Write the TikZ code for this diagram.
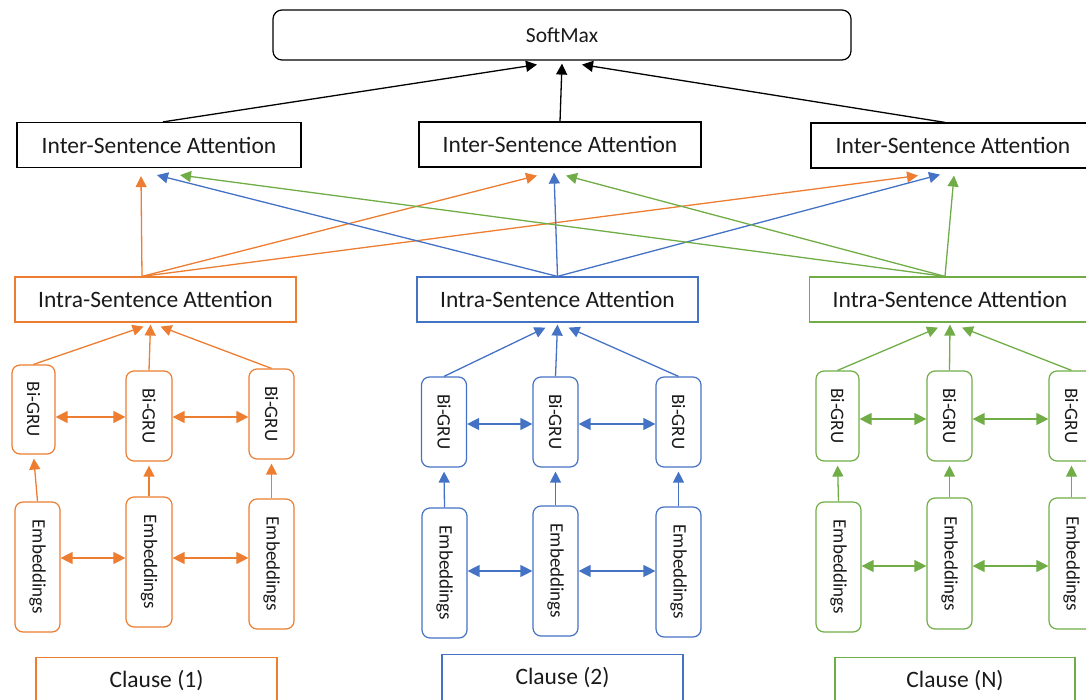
\documentclass[tikz,border=0pt]{standalone}
\usepackage{fontspec}
\usepackage{graphicx}
\setmainfont{Carlito}
\usetikzlibrary{arrows.meta}
\definecolor{org}{HTML}{ED7D31}
\definecolor{blu}{HTML}{4472C4}
\definecolor{grn}{HTML}{70AD47}
\definecolor{txt}{HTML}{1A1A1A}
\newcommand{\vtext}[1]{\rotatebox{-90}{#1}}
\begin{document}
\begin{tikzpicture}[x=1pt,y=-1pt,
  box/.style={draw, line width=1.2pt, text=txt, inner sep=0pt},
  big/.style={box, font=\fontsize{23.5}{26}\selectfont, minimum height=45pt},
  cell/.style={box, rounded corners=8pt, minimum width=45pt, font=\fontsize{19}{22}\selectfont},
  arr/.style={line width=1.3pt, -{Triangle[length=11pt,width=11pt]}},
  dbl/.style={line width=1.3pt, {Triangle[length=12pt,width=12pt]}-{Triangle[length=12pt,width=12pt]}},
]
\useasboundingbox (0,0) rectangle (1086,700);
\clip (0,0) rectangle (1086,700);

% top
\node[box, rounded corners=9pt, minimum width=578pt, minimum height=50pt, font=\fontsize{21.5}{24}\selectfont] (sm) at (562,35) {SoftMax};
\node[big, minimum width=284pt] (n1) at (159,145) {Inter-Sentence Attention};
\node[big, minimum width=282pt] (n2) at (560,144.5) {Inter-Sentence Attention};
\node[big, minimum width=284pt] (n3) at (953,145.5) {Inter-Sentence Attention};

% intra
\node[big, draw=org, minimum width=281pt] (a1) at (155.5,299.5) {Intra-Sentence Attention};
\node[big, draw=blu, minimum width=281pt] (a2) at (557.5,299.5) {Intra-Sentence Attention};
\node[big, draw=grn, minimum width=281pt] (a3) at (950,299.5) {Intra-Sentence Attention};

% orange column
\node[cell, draw=org, minimum width=43pt, minimum height=89pt] (b11) at (33.5,409.5) {\vtext{Bi-GRU}};
\node[cell, draw=org, minimum width=46pt, minimum height=90pt] (b12) at (149,416) {\vtext{Bi-GRU}};
\node[cell, draw=org, minimum height=90pt] (b13) at (271.5,414) {\vtext{Bi-GRU}};
\node[cell, draw=org, minimum height=130pt] (e11) at (37.5,567) {\vtext{Embeddings}};
\node[cell, draw=org, minimum width=46pt, minimum height=130pt] (e12) at (149,562) {\vtext{Embeddings}};
\node[cell, draw=org, minimum height=130pt] (e13) at (271.5,564) {\vtext{Embeddings}};
\node[big, draw=org, minimum width=241pt, minimum height=46pt, anchor=north] (c1) at (156.5,657) {Clause (1)};

% blue column
\node[cell, draw=blu, minimum height=90pt] (b21) at (444,422) {\vtext{Bi-GRU}};
\node[cell, draw=blu, minimum height=90pt] (b22) at (555.5,422) {\vtext{Bi-GRU}};
\node[cell, draw=blu, minimum height=90pt] (b23) at (678.5,422) {\vtext{Bi-GRU}};
\node[cell, draw=blu, minimum height=130pt] (e21) at (444.5,573) {\vtext{Embeddings}};
\node[cell, draw=blu, minimum height=130pt] (e22) at (555.5,571) {\vtext{Embeddings}};
\node[cell, draw=blu, minimum height=130pt] (e23) at (678.5,572) {\vtext{Embeddings}};
\node[big, draw=blu, minimum width=241pt, minimum height=46pt, anchor=north] (c2) at (562.5,654) {Clause (2)};

% green column
\node[cell, draw=grn, minimum width=43pt, minimum height=90pt] (b31) at (837.5,416) {\vtext{Bi-GRU}};
\node[cell, draw=grn, minimum height=90pt] (b32) at (949.5,416) {\vtext{Bi-GRU}};
\node[cell, draw=grn, minimum height=90pt] (b33) at (1071.5,416) {\vtext{Bi-GRU}};
\node[cell, draw=grn, minimum height=130pt] (e31) at (838.5,567) {\vtext{Embeddings}};
\node[cell, draw=grn, minimum height=131pt] (e32) at (949.5,563.5) {\vtext{Embeddings}};
\node[cell, draw=grn, minimum height=131pt] (e33) at (1071.5,563.5) {\vtext{Embeddings}};
\node[big, draw=grn, minimum width=240pt, minimum height=46pt, anchor=north] (c3) at (955,657) {Clause (N)};

% levels for horizontal arrows
\coordinate (yo1) at (0,417);
\coordinate (yo2) at (0,558);
\coordinate (yb1) at (0,424);
\coordinate (yb2) at (0,571);
\coordinate (yg1) at (0,419);
\coordinate (yg2) at (0,566);

% black arrows to SoftMax
\draw[arr, black] ([xshift=4pt]n1.north) -- ([xshift=-25pt,yshift=-4pt]sm.south);
\draw[arr, black] (n2.north) -- ([yshift=-3pt]sm.south);
\draw[arr, black] ([xshift=-8pt]n3.north) -- ([xshift=20pt,yshift=-4pt]sm.south);

% cross arrows intra -> inter
\draw[arr, org] ([xshift=-13.5pt]a1.north) -- ([xshift=-18pt,yshift=-8pt]n1.south);
\draw[arr, org] ([xshift=-13.5pt]a1.north) -- ([xshift=-23pt,yshift=-8pt]n2.south);
\draw[arr, org] ([xshift=-13.5pt]a1.north) -- ([xshift=-35pt,yshift=-7pt]n3.south);
\draw[arr, blu] (a2.north) -- ([xshift=-2pt,yshift=-7pt]n1.south);
\draw[arr, blu] (a2.north) -- ([xshift=-6pt,yshift=-5pt]n2.south);
\draw[arr, blu] (a2.north) -- ([xshift=-13pt,yshift=-6pt]n3.south);
\draw[arr, grn] ([xshift=-5pt]a3.north) -- ([xshift=21pt,yshift=-7pt]n1.south);
\draw[arr, grn] ([xshift=-5pt]a3.north) -- ([xshift=6pt,yshift=-8pt]n2.south);
\draw[arr, grn] ([xshift=-5pt]a3.north) -- ([xshift=1pt,yshift=-7pt]n3.south);

% Bi-GRU -> intra
\draw[arr, org] (b11.north) -- ([xshift=-12pt,yshift=-4pt]a1.south);
\draw[arr, org] (b12.north) -- ([xshift=-5pt,yshift=-2pt]a1.south);
\draw[arr, org] (b13.north) -- ([xshift=5pt,yshift=-4pt]a1.south);
\draw[arr, blu] (b21.north) -- ([xshift=-12pt,yshift=-5pt]a2.south);
\draw[arr, blu] (b22.north) -- ([yshift=-2pt]a2.south);
\draw[arr, blu] (b23.north) -- ([xshift=11pt,yshift=-5pt]a2.south);
\draw[arr, grn] (b31.north) -- ([xshift=-12pt,yshift=-5pt]a3.south);
\draw[arr, grn] (b32.north) -- ([yshift=-2pt]a3.south);
\draw[arr, grn] (b33.north) -- ([xshift=12pt,yshift=-5pt]a3.south);

% Embeddings -> Bi-GRU
\foreach \c/\k in {org/1,blu/2,grn/3}{
  \foreach \i in {1,2,3}{
    \draw[arr, \c, shorten >=4pt] (e\k\i.north) -- (b\k\i.south);
  }
}

% horizontal double arrows
\draw[dbl, org] (b11.east |- yo1) -- (b12.west |- yo1);
\draw[dbl, org] (b12.east |- yo1) -- (b13.west |- yo1);
\draw[dbl, org] (e11.east |- yo2) -- (e12.west |- yo2);
\draw[dbl, org] (e12.east |- yo2) -- (e13.west |- yo2);
\draw[dbl, blu] (b21.east |- yb1) -- (b22.west |- yb1);
\draw[dbl, blu] (b22.east |- yb1) -- (b23.west |- yb1);
\draw[dbl, blu] (e21.east |- yb2) -- (e22.west |- yb2);
\draw[dbl, blu] (e22.east |- yb2) -- (e23.west |- yb2);
\draw[dbl, grn] (b31.east |- yg1) -- (b32.west |- yg1);
\draw[dbl, grn] (b32.east |- yg1) -- (b33.west |- yg1);
\draw[dbl, grn] (e31.east |- yg2) -- (e32.west |- yg2);
\draw[dbl, grn] (e32.east |- yg2) -- (e33.west |- yg2);
\end{tikzpicture}
\end{document}
